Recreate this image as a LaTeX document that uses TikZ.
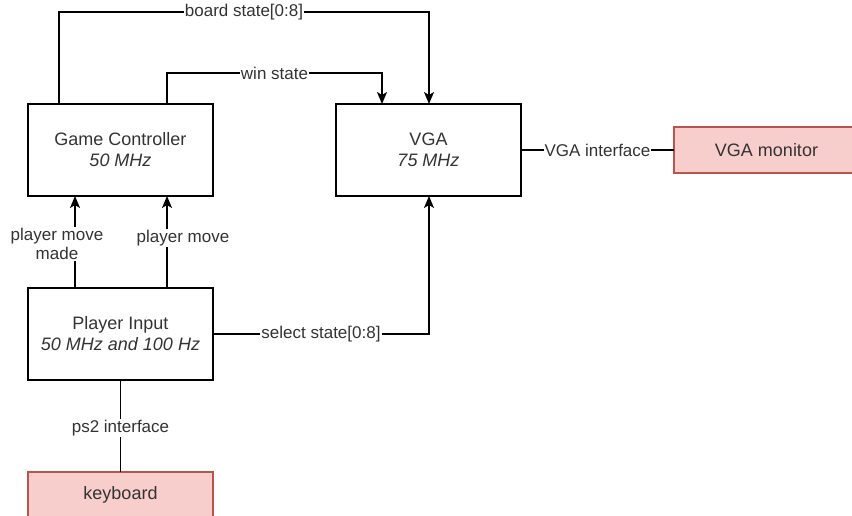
\documentclass[tikz,border=0pt]{standalone}
\usepackage{fontspec}
\setmainfont{Liberation Sans}
\usetikzlibrary{arrows.meta}
\definecolor{txt}{HTML}{333333}
\definecolor{redfill}{HTML}{F8CECC}
\definecolor{redline}{HTML}{B85450}
\tikzset{
  block/.style={draw=black, line width=1.4pt, minimum width=185pt, minimum height=92pt,
    inner sep=0pt, outer sep=0pt, align=center, text=txt, font=\fontsize{18}{21}\selectfont},
  ext/.style={draw=redline, fill=redfill, line width=1.4pt, minimum width=185pt, minimum height=46pt,
    inner sep=0pt, outer sep=0pt, align=center, text=txt, font=\fontsize{18}{21}\selectfont},
  wire/.style={draw=black, line width=1.4pt},
  arr/.style={wire, -{Stealth[length=12pt,width=10pt,inset=3pt]}},
  lbl/.style={fill=white, inner sep=1pt, text=txt, align=center, font=\fontsize{17}{19.5}\selectfont}
}
\begin{document}
\begin{tikzpicture}[x=1pt,y=-1pt]
\useasboundingbox (0,0) rectangle (852,516);
\clip (0,0) rectangle (852,516);
\node[block] (gc) at (120.5,150) {Game Controller\\\textit{50 MHz}};
\node[block] (vga) at (428.5,150) {VGA\\\textit{75 MHz}};
\node[block] (pi) at (120.5,334) {Player Input\\\textit{50 MHz and 100 Hz}};
\node[ext] (mon) at (766.5,150) {VGA monitor};
\node[ext] (kb) at (120.5,495) {keyboard};
\coordinate (b1) at (59,12);
\coordinate (b2) at (429,12);
\coordinate (w1) at (167,73);
\coordinate (w2) at (382,73);
\coordinate (m1) at (75,0);
% board state
\draw[arr] (gc.north -| b1) -- (b1) -- node[lbl]{board state[0:8]} (b2) -- (vga.north -| b2);
% win state
\draw[arr] (gc.north -| w1) -- (w1) -- node[lbl]{win state} (w2) -- (vga.north -| w2);
% player moves
\draw[arr] (pi.north -| m1) -- node[lbl, xshift=-18pt, yshift=-2pt]{player move\\made} (gc.south -| m1);
\draw[arr] (pi.north -| w1) -- node[lbl, xshift=16pt, yshift=4pt]{player move} (gc.south -| w1);
% select state
\draw[arr] (pi.east) -- node[lbl]{select state[0:8]} (pi.east -| b2) -- (vga.south -| b2);
% VGA interface
\draw[wire] (vga.east) -- node[lbl]{VGA interface} (mon.west);
% ps2
\draw[wire] (pi.south) -- node[lbl, yshift=-2pt]{ps2 interface} (kb.north);
\end{tikzpicture}
\end{document}
